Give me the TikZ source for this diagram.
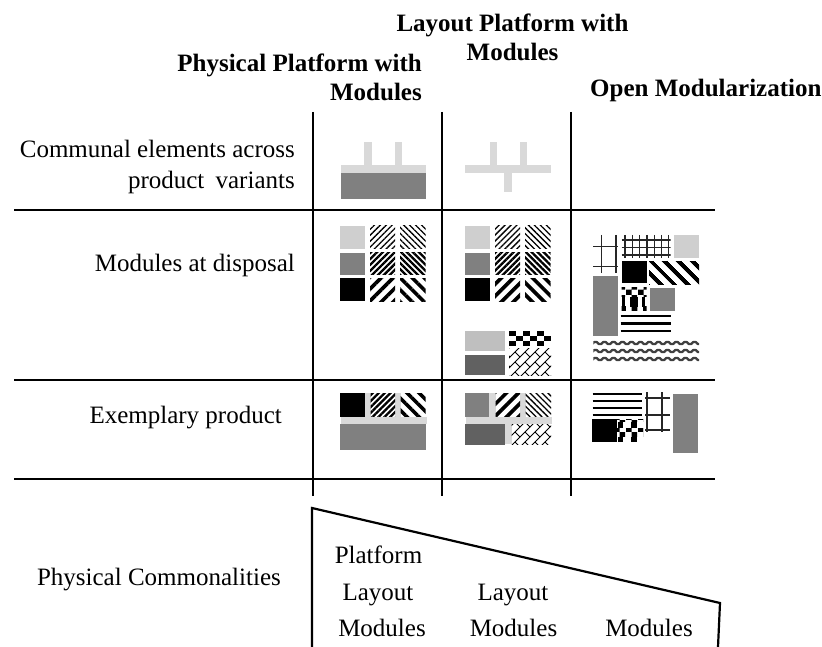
\documentclass[tikz,border=0pt]{standalone}
\usepackage{fontspec}
\setmainfont{Liberation Serif}
\usetikzlibrary{patterns,patterns.meta}

% diagonal ladder used for one of the layout modules
\pgfdeclarepatternformonly{lattice}{\pgfqpoint{-1pt}{-1pt}}{\pgfqpoint{11pt}{11pt}}{\pgfqpoint{10pt}{10pt}}{%
  \pgfsetlinewidth{0.9pt}%
  \pgfpathmoveto{\pgfqpoint{0pt}{0pt}}\pgfpathlineto{\pgfqpoint{10pt}{10pt}}%
  \pgfpathmoveto{\pgfqpoint{5pt}{5pt}}\pgfpathlineto{\pgfqpoint{10pt}{0pt}}%
  \pgfusepath{stroke}}

\newcommand\txtsize{\fontsize{25}{30}\selectfont}

\begin{document}
\begin{tikzpicture}[x=1pt,y=-1pt,
  rule/.style={line width=2.2pt},
  lbl/.style={inner sep=0pt,font=\txtsize},
  hdr/.style={inner sep=0pt,font=\txtsize\bfseries},
  boxpale/.style={fill=black!15},
  boxlight/.style={fill=black!19},
  boxsoft/.style={fill=black!25},
  boxgrey/.style={fill=black!50},
  boxdeep/.style={fill=black!62},
  boxblack/.style={fill=black},
  ne thin/.style={pattern={Lines[angle=45,distance=4.2pt,line width=1.3pt]}},
  nw thin/.style={pattern={Lines[angle=-45,distance=4.2pt,line width=1.3pt]}},
  ne thick/.style={pattern={Lines[angle=45,distance=4.2pt,line width=2.3pt]}},
  nw thick/.style={pattern={Lines[angle=-45,distance=4.2pt,line width=2.3pt]}},
  ne wide/.style={pattern={Lines[angle=45,distance=8.5pt,line width=3.6pt]}},
  nw wide/.style={pattern={Lines[angle=-45,distance=8.5pt,line width=3.6pt]}},
  nw broad/.style={pattern={Lines[angle=-45,distance=10.5pt,line width=4.5pt]}},
  ladder/.style={pattern=lattice},
  finecheck/.style={pattern=checkerboard},
  gridbar/.style={line width=1.8pt,black!85},
  finebar/.style={line width=1.3pt,black!85},
  stripe/.style={line width=2.8pt},
  wave/.style={line width=2.3pt,black!75,line join=round,rounded corners=1.8pt},
  ]
\useasboundingbox (0,0) rectangle (822,647);

% ---- table rules ----
\coordinate (v1t) at (313,112); \coordinate (v1b) at (313,496);
\coordinate (v2t) at (442,112); \coordinate (v2b) at (442,496);
\coordinate (v3t) at (571,112); \coordinate (v3b) at (571,496);
\coordinate (h1l) at (14,210);  \coordinate (h1r) at (715,210);
\coordinate (h2l) at (14,380);  \coordinate (h2r) at (715,380);
\coordinate (h3l) at (14,479);  \coordinate (h3r) at (715,479);
\draw[rule] (v1t) -- (v1b);
\draw[rule] (v2t) -- (v2b);
\draw[rule] (v3t) -- (v3b);
\draw[rule] (h1l) -- (h1r);
\draw[rule] (h2l) -- (h2r);
\draw[rule] (h3l) -- (h3r);

% ---- column headings ----
\node[hdr,anchor=base east] (pp1) at (422,72) {Physical Platform with};
\node[hdr,anchor=base east] (pp2) at (422,101) {Modules};
\node[hdr,anchor=base] (lp1) at (512.5,32) {Layout Platform with};
\node[hdr,anchor=base] (lp2) at (512.5,61) {Modules};
\node[hdr,anchor=base west] (om) at (590,97) {Open Modularization};

% ---- row headings ----
\node[lbl,anchor=base east] (ra) at (295,158) {Communal elements across};
\node[lbl,anchor=base east] (rb) at (295,189) {product\hspace{0.45em}variants};
\node[lbl,anchor=base east] (rc) at (295,272) {Modules at disposal};
\node[lbl,anchor=base east] (rd) at (282,423) {Exemplary product};
\node[lbl,anchor=base east] (re) at (281,585) {Physical Commonalities};

% ---- communal elements ----
\fill[boxpale] (341,165) rectangle (426,173);
\fill[boxpale] (364.3,142.3) rectangle (371.7,165);
\fill[boxpale] (395,142.3) rectangle (402.3,165);
\fill[boxgrey] (341,173) rectangle (426,199);

\fill[boxpale] (465.3,165) rectangle (550.7,173);
\fill[boxpale] (490,142.3) rectangle (497.3,165);
\fill[boxpale] (520,142.3) rectangle (527.3,165);
\fill[boxpale] (504.3,173) rectangle (512,192.3);

% ---- module sets of the two platform columns ----
\foreach \ox in {340,465} {
  \fill[boxlight] (\ox,226) rectangle ++(25,23);
  \fill[ne thin]  (\ox+30,226) rectangle ++(25,23);
  \fill[nw thin]  (\ox+60,226) rectangle ++(25.5,23);
  \fill[boxgrey]  (\ox,253) rectangle ++(25,21.5);
  \fill[ne thick] (\ox+30,253) rectangle ++(25,21.5);
  \fill[nw thick] (\ox+60,253) rectangle ++(25.5,21.5);
  \fill[boxblack] (\ox,278) rectangle ++(25,23);
  \fill[ne wide]  (\ox+30,278) rectangle ++(25,23);
  \fill[nw wide]  (\ox+60,278) rectangle ++(25.5,23);
}
% extra layout modules
\fill[boxsoft] (465,331) rectangle (505,351);
\fill[boxdeep] (465,355) rectangle (505,375);
\foreach \i in {0,...,5} \foreach \j in {0,1,2} {
  \ifodd\numexpr\i+\j\relax\else
    \fill[boxblack] (509+7*\i,331+5*\j) rectangle ++(7,5);
  \fi }
\fill[ladder] (509,348) rectangle (551,375);

% ---- open modularization: modules ----
\begin{scope}
  \clip (593,235) rectangle (618,273);
  \foreach \gx in {601.5,616} \draw[gridbar] (\gx,235) -- (\gx,273);
  \foreach \gy in {246.5,266.5} \draw[gridbar] (593,\gy) -- (618,\gy);
\end{scope}
\begin{scope}
  \clip (621.7,235) rectangle (670.7,258.3);
  \foreach \gx in {625,632.3,639.6,646.9,654.2,661.5,668.8} \draw[finebar] (\gx,235) -- (\gx,258.3);
  \foreach \gy in {240,247.5,255} \draw[finebar] (621.7,\gy) -- (670.7,\gy);
\end{scope}
\fill[boxlight] (674,235) rectangle (699,257.7);
\fill[boxblack] (621.7,261) rectangle (646.7,283.3);
\fill[nw broad] (649,261) rectangle (699,284.3);
\fill[boxgrey] (592.7,275.7) rectangle (618.3,335.7);
% plaid block
\fill[finecheck] (621.7,287.7) rectangle (646.7,296.7);
\fill[boxblack] (621.7,296.7) rectangle (624.5,306.7);
\fill[boxblack] (630,296.7) rectangle (638,306.7);
\fill[boxblack] (642,296.7) rectangle (645,306.7);
\fill[finecheck] (621.7,306.7) rectangle (646.7,310.7);
\fill[boxgrey] (650,287.7) rectangle (675,310.7);
\foreach \sy in {316,323.5,331} \draw[stripe] (620.7,\sy) -- (671,\sy);
\begin{scope}
  \clip (593.3,340) rectangle (699,361.7);
  \foreach \wy in {341.3,349.3,357.3}
    \draw[wave] (591,\wy+4) \foreach \k in {1,...,25} { -- ++(4.5,{-9*mod(\k,2)+4.5}) };
\end{scope}

% ---- exemplary products ----
% physical platform
\fill[boxblack] (340,393.3) rectangle (365,416.7);
\fill[boxpale] (365,393.3) rectangle (370.7,416.7);
\fill[boxpale] (395,393.3) rectangle (400.7,416.7);
\fill[boxpale] (341,416.7) rectangle (426.7,424.3);
\fill[ne thick] (370.7,393.3) rectangle (395,416.7);
\fill[nw wide] (400.7,393.3) rectangle (425.7,416.7);
\fill[boxgrey] (340,424.3) rectangle (426,450);
% layout platform
\fill[boxgrey] (465,393.3) rectangle (489.3,416.7);
\fill[boxpale] (489.3,393.3) rectangle (495.7,416.7);
\fill[boxpale] (520,393.3) rectangle (525.7,416.7);
\fill[boxpale] (466,416.7) rectangle (551.7,424.3);
\fill[boxpale] (505,424.3) rectangle (511.7,444.3);
\fill[ne wide] (495.7,393.3) rectangle (520,416.7);
\fill[nw thin] (525.7,393.3) rectangle (551,416.7);
\fill[boxdeep] (465,424.3) rectangle (505,445);
\fill[ladder] (511.7,424.3) rectangle (551,444.3);
% open modularization
\foreach \sy in {394,401,408,415} \draw[stripe] (592.7,\sy) -- (642.3,\sy);
\begin{scope}
  \clip (645,392.3) rectangle (670,431.7);
  \foreach \gx in {647,662} \draw[gridbar] (\gx,392.3) -- (\gx,431.7);
  \foreach \gy in {398,415,430} \draw[gridbar] (645,\gy) -- (670,\gy);
\end{scope}
\fill[boxgrey] (672.7,394.3) rectangle (697.7,453.3);
\fill[boxblack] (591.7,419.3) rectangle (616.7,442.3);
\fill[finecheck] (616.7,419.3) rectangle (643.3,421.5);
\fill[boxblack] (618.3,421.5) rectangle (623.3,442.3);
\fill[boxblack] (630.7,421.5) rectangle (636.7,442.3);
\fill[white] (616.7,428) rectangle (643.3,436.7);
\fill[finecheck] (616.7,428) rectangle (643.3,436.7);

% ---- commonality wedge ----
\coordinate (tz1) at (312,647);
\coordinate (tz2) at (312,508);
\coordinate (tz3) at (720,603);
\coordinate (tz4) at (718,647);
\draw[rule,line join=miter] (tz1) -- (tz2) -- (tz3) -- (tz4);
\node[lbl,anchor=base] (wa) at (378.5,563) {Platform};
\node[lbl,anchor=base] (wb) at (378,600) {Layout};
\node[lbl,anchor=base] (wc) at (382,636) {Modules};
\node[lbl,anchor=base] (wd) at (513,600) {Layout};
\node[lbl,anchor=base] (we) at (513.5,636) {Modules};
\node[lbl,anchor=base] (wf) at (649,636) {Modules};
\end{tikzpicture}
\end{document}
